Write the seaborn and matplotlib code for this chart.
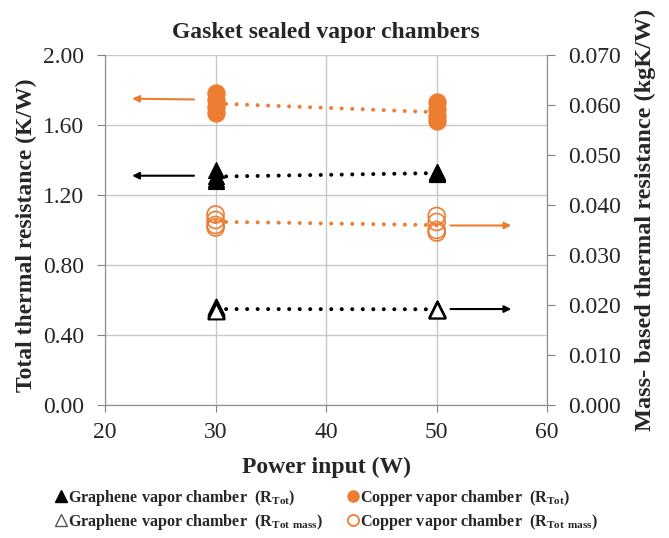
import numpy as np
import pandas as pd
import matplotlib
matplotlib.use('Agg')
import matplotlib.pyplot as plt
import seaborn as sns
from matplotlib.lines import Line2D

# Datos
power = [30, 30, 30, 30, 50, 50, 50, 50]
cobre_rtot = [1.78, 1.74, 1.70, 1.67, 1.73, 1.69, 1.65, 1.62]
grafeno_rtot = [1.34, 1.31, 1.29, 1.28, 1.33, 1.33, 1.32, 1.32]
cobre_mass = [0.0381, 0.0370, 0.0360, 0.0355, 0.0378, 0.0366, 0.0350, 0.0345]
grafeno_mass = [0.0197, 0.0193, 0.0190, 0.0188, 0.0192, 0.0192, 0.0191, 0.0191]

df = pd.DataFrame({'Power': power, 'Cu': cobre_rtot, 'Gr': grafeno_rtot,
                   'Cu_m': cobre_mass, 'Gr_m': grafeno_mass})

naranja = '#ED7D31'

sns.set_style('white')
plt.rcParams['font.family'] = ['Liberation Serif', 'DejaVu Serif']
plt.rcParams['mathtext.fontset'] = 'custom'
plt.rcParams['mathtext.rm'] = 'Liberation Serif'
plt.rcParams['mathtext.default'] = 'regular'

fig = plt.figure(figsize=(6.69, 5.38), dpi=100)
ax = fig.add_axes([0.157, 0.247, 0.661, 0.651])
ax2 = ax.twinx()

linea = dict(linestyle=(0, (0.01, 2.6)), linewidth=2.9)

# Eje izquierdo: R_Tot
sns.lineplot(data=df, x='Power', y='Cu', estimator='mean', errorbar=None,
             color=naranja, ax=ax, **linea)
sns.lineplot(data=df, x='Power', y='Gr', estimator='mean', errorbar=None,
             color='black', ax=ax, **linea)
sns.scatterplot(data=df, x='Power', y='Cu', marker='o', s=150, color=naranja,
                edgecolor=naranja, ax=ax, zorder=3)
sns.scatterplot(data=df, x='Power', y='Gr', marker='^', s=130, color='black',
                edgecolor='black', ax=ax, zorder=3)

# Eje derecho: R_Tot mass
sns.lineplot(data=df, x='Power', y='Cu_m', estimator='mean', errorbar=None,
             color=naranja, ax=ax2, **linea)
sns.lineplot(data=df, x='Power', y='Gr_m', estimator='mean', errorbar=None,
             color='black', ax=ax2, **linea)
sns.scatterplot(data=df, x='Power', y='Cu_m', marker='o', s=150, facecolor='none',
                edgecolor=naranja, linewidth=1.2, ax=ax2, zorder=3)
sns.scatterplot(data=df, x='Power', y='Gr_m', marker='^', s=130, facecolor='white',
                edgecolor='black', linewidth=1.5, ax=ax2, zorder=3)

# puntos redondos en las líneas
for a in (ax, ax2):
    for ln in a.lines:
        ln.set_dash_capstyle('round')

ax.set_xlim(20, 60)
ax.set_ylim(0, 2.0)
ax2.set_ylim(0, 0.070)
ax.set_xticks([20, 30, 40, 50, 60])
ax.set_yticks(np.arange(0, 2.01, 0.4))
ax2.set_yticks(np.arange(0, 0.0701, 0.01))
ax.set_yticklabels([f'{v:.2f}' for v in np.arange(0, 2.01, 0.4)])
ax2.set_yticklabels([f'{v:.3f}' for v in np.arange(0, 0.0701, 0.01)])
ax.tick_params(axis='y', labelsize=17, left=True, direction='out', length=6,
               color='#808080', pad=9)
ax.tick_params(axis='x', labelsize=17, bottom=True, direction='out', length=5,
               color='#808080', pad=7)
ax2.tick_params(axis='y', labelsize=17, right=True, direction='out', length=6,
                color='#808080', pad=9)

ax.grid(True, color='#c8c8c8', linewidth=1)
for a in (ax, ax2):
    a.spines['top'].set_visible(False)
    for s in ('left', 'right', 'bottom'):
        a.spines[s].set_color('#909090')

ax.set_xlabel('Power input (W)', fontsize=17, fontweight='bold', labelpad=10)
ax.set_ylabel('Total thermal resistance (K/W)', fontsize=17, fontweight='bold',
              labelpad=4)
ax2.set_ylabel('Mass- based thermal resistance (kgK/W)', fontsize=17.5,
               fontweight='bold', rotation=90, labelpad=10)
ax.yaxis.label.set_y(0.486)
ax2.yaxis.label.set_y(0.529)
ax.set_title('Gasket sealed vapor chambers', fontsize=17, fontweight='bold', pad=12)

# Flechas indicando el eje
flecha = dict(arrowstyle='-|>', lw=1.5, mutation_scale=10)
ax.annotate('', xy=(22.2, 1.75), xytext=(28.3, 1.745),
            arrowprops=dict(color=naranja, **flecha))
ax.annotate('', xy=(22.2, 1.31), xytext=(28.3, 1.31),
            arrowprops=dict(color='black', **flecha))
ax2.annotate('', xy=(57.0, 0.0359), xytext=(51.0, 0.0359),
             arrowprops=dict(color=naranja, **flecha))
ax2.annotate('', xy=(57.0, 0.0192), xytext=(51.0, 0.0192),
             arrowprops=dict(color='black', **flecha))

# Leyenda inferior
handles = [
    Line2D([], [], marker='^', linestyle='none', color='black', markersize=8),
    Line2D([], [], marker='^', linestyle='none', markerfacecolor='white',
           markeredgecolor='#555555', markersize=8),
    Line2D([], [], marker='o', linestyle='none', color=naranja, markersize=8),
    Line2D([], [], marker='o', linestyle='none', markerfacecolor='white',
           markeredgecolor=naranja, markeredgewidth=1.3, markersize=8),
]
labels = [
    r'Graphene vapor chamber  (R$_{Tot}$)',
    r'Graphene vapor chamber  (R$_{Tot\ mass}$)',
    r'Copper vapor chamber  (R$_{Tot}$)',
    r'Copper vapor chamber  (R$_{Tot\ mass}$)',
]
fig.legend(handles, labels, ncol=2, loc='lower center', bbox_to_anchor=(0.485, -0.016),
           frameon=False, prop={'weight': 'bold', 'size': 11.6},
           handletextpad=-0.2, columnspacing=1.3, handlelength=1.2, labelspacing=0.25)

plt.savefig('out.png', dpi=100)
